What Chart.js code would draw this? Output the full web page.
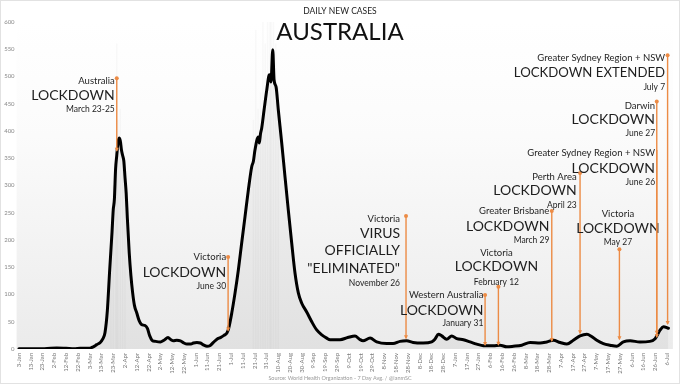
<!DOCTYPE html>
<html><head><meta charset="utf-8">
<script src="https://cdn.jsdelivr.net/npm/chart.js@4.4.1/dist/chart.umd.min.js"></script>
<style>html,body{margin:0;padding:0;background:#fff}#wrap{width:680px;height:384px;position:relative}</style>
</head><body><div id="wrap"><canvas id="c" width="680" height="384"></canvas></div>
<script>
// ---- DATA ----
const tickLabels = ['3-Jan','13-Jan','23-Jan','2-Feb','12-Feb','22-Feb','3-Mar','13-Mar','23-Mar','2-Apr','12-Apr','22-Apr','2-May','12-May','22-May','1-Jun','11-Jun','21-Jun','1-Jul','11-Jul','21-Jul','31-Jul','10-Aug','20-Aug','30-Aug','9-Sep','19-Sep','29-Sep','9-Oct','19-Oct','29-Oct','8-Nov','18-Nov','28-Nov','8-Dec','18-Dec','28-Dec','7-Jan','17-Jan','27-Jan','6-Feb','16-Feb','26-Feb','8-Mar','18-Mar','28-Mar','7-Apr','17-Apr','27-Apr','7-May','17-May','27-May','6-Jun','16-Jun','26-Jun','6-Jul'];
const yTicks = [0,50,100,150,200,250,300,350,400,450,500,550,600];

// 7-day average: day index from 3 Jan 2020, value
const avgDays = [0,10,20,27,32,40,47,52,57,60,63,66,69,71,73,75,77,79,80,81,82,83,84,85,86,87,88,89,90,91,92,93.6,95,96.5,98,100,102,104,107,109,111,113,116,120,123,126.5,129,131,134,137,140,142.6,146,148,151,154,157,159.6,162,165,168,171,174,176.6,178,180.6,183.4,186.2,189,191.8,194.7,197.5,199,200.3,203.1,204,205,206,208,210.3,212.5,213.9,215.4,216.5,218.2,220.1,223,225.8,228.6,231.5,234.3,237.1,240,244.2,248.5,252.7,257,261.2,264,266.6,272.5,279,285.2,289,292,298,303.6,312,317.5,323.4,329,334.5,343,350.3,353,356,358.8,363,367.3,371.6,377.2,382.8,388.5,394.1,402.6,408.3,414,419.6,426.7,433.8,442.3,448,453.6,459.3,465,470.5,476.2,482,486,490.4,496,501.7,507.4,513,518.7,527,535.4,539.9,544.2,547,551.2];
const avgValues = [0.3,0.4,0.6,1.5,1.8,1.2,0.5,1.5,1.5,1.5,4,8,12,18,30,70,145,215,255,275,330,355,378,387,382,365,355,345,315,286,240,176,135,103,80,66,52,45,43,38,24,16,14,13,16,21,17,15,16,15,11,9,9,11,12,11,7,5,6,12,18,21,25,30,38,66,103,145,194,242,292,334,345,365,389,378,395,405,438,475,503,490,549,494,481,439,378,316,255,194,139,103,84,68,50,35,26,20,17,17,17,21,24,18,15,20,13,10,10,14,15,12,11,13,18,27,24,18,24,19,17,13,9,6,6,7,4,5,7,12,11,13,16,12,9,16,24,27,23,16,10,7,5,13,15,13,14,19,35,41,38];

// faint daily bars that rise above the average
const dailyDays = [78,80,82,83,84,86,88,90,199,201,203,205,207,209,211,213,214,216,218,220];
const dailyValues = [230,300,360,560,420,440,380,330,420,585,440,470,600,560,610,630,640,600,560,480];

// annotations
const annoDays = [83,177.5,328.5,395.6,406.9,452.2,476.2,509.6,541.3,541.3,550.5];
const annoTops = [497,169,244,99,114,253,323,183,365,454,539];
const annoBottoms = [362,32,18,5.5,6,13,27,16,20,26,44];
const annoDots = [true,true,true,true,true,true,true,true,false,true,true];
const annoTexts = [
  ['Australia','LOCKDOWN','March 23-25'],
  ['Victoria','LOCKDOWN','June 30'],
  ['Victoria','VIRUS','OFFICIALLY','"ELIMINATED"','November 26'],
  ['Western Australia','LOCKDOWN','January 31'],
  ['Victoria','LOCKDOWN','February 12'],
  ['Greater Brisbane','LOCKDOWN','March 29'],
  ['Perth Area','LOCKDOWN','April 23'],
  ['Victoria','LOCKDOWN','May 27'],
  ['Greater Sydney Region + NSW','LOCKDOWN','June 26'],
  ['Darwin','LOCKDOWN','June 27'],
  ['Greater Sydney Region + NSW','LOCKDOWN EXTENDED','July 7']
];

// ---- LAYOUT / STYLE ----
const FONT = 'Lato, "Open Sans", sans-serif';
const ORANGE = '#ec8b45';
const S = [9.5,14,8.5];
const annoLayout = [
  {align:'right', dx:-2, dys:[3,17,31], sizes:S},
  {align:'right', dx:-2, dys:[0,16,29], sizes:S},
  {align:'right', dx:-6, dys:[2.5,17,34,52,67.5], sizes:[9.5,14,14,14,8.5]},
  {align:'right', dx:-1.7, dys:[0,15,28], sizes:S},
  {align:'center', dx:-2, dys:[-34,-20,-5], sizes:S},
  {align:'right', dx:-2.4, dys:[0,15.7,29], sizes:S},
  {align:'right', dx:-3.3, dys:[3.7,18,32], sizes:S},
  {align:'center', dx:-1.5, dys:[-35,-20.3,-6.7], sizes:S},
  {align:'right', dx:-1.7, dys:[3.3,18.3,31.7], sizes:S},
  {align:'right', dx:-1.7, dys:[4.3,18.3,31.3], sizes:S},
  {align:'right', dx:-2.5, dys:[2.3,17,32.3], sizes:[9.5,13.2,8.5]}
];

const bgPlugin = {
  id:'bg',
  beforeDraw(chart){
    const {ctx, chartArea:a} = chart;
    ctx.save();
    ctx.fillStyle = '#fff';
    ctx.fillRect(0,0,chart.width,chart.height);
    const g = ctx.createLinearGradient(0,a.top,0,a.bottom);
    g.addColorStop(0,'#ffffff');
    g.addColorStop(0.35,'#fbfbfb');
    g.addColorStop(1,'#ebebeb');
    ctx.fillStyle = g;
    ctx.fillRect(a.left,a.top,a.right-a.left,a.bottom-a.top);
    ctx.restore();
  },
  afterDraw(chart){
    const ctx = chart.ctx;
    ctx.save();
    ctx.strokeStyle = '#e2e2e2';
    ctx.lineWidth = 1;
    ctx.strokeRect(0.5,0.5,chart.width-1,chart.height-1);
    ctx.fillStyle = '#222';
    ctx.textAlign = 'center';
    ctx.textBaseline = 'middle';
    ctx.font = '8.5px ' + FONT;
    ctx.fillText('DAILY NEW CASES', 340, 11.5);
    ctx.fillStyle = '#111';
    ctx.font = '24px ' + FONT;
    ctx.fillText('AUSTRALIA', 340, 32);
    ctx.fillStyle = '#999';
    ctx.font = '5.5px ' + FONT;
    ctx.fillText('Source: World Health Organization - 7 Day Avg. / @ianmSC', 340, 378.5);
    ctx.restore();
  }
};

const annoPlugin = {
  id:'anno',
  afterDatasetsDraw(chart){
    const {ctx, scales:{x,y}} = chart;
    ctx.save();
    annoDays.forEach((d,i)=>{
      const xl = x.getPixelForValue(d);
      const yt = y.getPixelForValue(annoTops[i]);
      const yb = y.getPixelForValue(annoBottoms[i]);
      ctx.strokeStyle = ORANGE;
      ctx.lineWidth = 1.4;
      ctx.beginPath(); ctx.moveTo(xl,yt); ctx.lineTo(xl,yb-1); ctx.stroke();
      ctx.fillStyle = ORANGE;
      ctx.beginPath(); ctx.moveTo(xl-2,yb-4); ctx.lineTo(xl+2,yb-4); ctx.lineTo(xl,yb); ctx.closePath(); ctx.fill();
      if (annoDots[i]) { ctx.beginPath(); ctx.arc(xl,yt,2,0,Math.PI*2); ctx.fill(); }
      const L = annoLayout[i];
      ctx.fillStyle = '#1e1e1e';
      ctx.textAlign = L.align;
      ctx.textBaseline = 'middle';
      annoTexts[i].forEach((t,j)=>{
        ctx.font = L.sizes[j] + 'px ' + FONT;
        ctx.fillText(t, xl + L.dx, yt + L.dys[j]);
      });
    });
    ctx.restore();
  }
};

new Chart(document.getElementById('c'), {
  data:{
    datasets:[
      {type:'bar', data: dailyDays.map((d,i)=>({x:d,y:dailyValues[i]})), backgroundColor:'rgba(0,0,0,0.025)', barThickness:1, order:3},
      {type:'line', data: avgDays.map((d,i)=>({x:d,y:avgValues[i]})), borderColor:'#000', borderWidth:3, pointRadius:0,
       cubicInterpolationMode:'monotone', borderJoinStyle:'round', borderCapStyle:'round',
       fill:'origin', backgroundColor:'rgba(0,0,0,0.04)', order:1}
    ]
  },
  options:{
    responsive:false, animation:false, devicePixelRatio:1,
    layout:{padding:{top:22,right:7.1,left:0,bottom:0}},
    plugins:{legend:{display:false}, tooltip:{enabled:false}},
    scales:{
      x:{type:'linear', min:-2, max:555, offset:false,
         grid:{display:false, drawTicks:false, offset:false}, border:{display:false},
         afterBuildTicks(s){ s.ticks = tickLabels.map((_,i)=>({value:i*10})); },
         afterFit(s){ s.height = 35; s.paddingLeft = 0; s.paddingRight = 0; },
         ticks:{autoSkip:false, minRotation:90, maxRotation:90, padding:4, color:'#777',
                font:{size:6, family:FONT},
                callback(v){ return tickLabels[Math.round(v/10)]; }}},
      y:{min:0, max:600,
         grid:{display:false, drawTicks:false}, border:{display:false},
         afterBuildTicks(s){ s.ticks = yTicks.map(v=>({value:v})); },
         afterFit(s){ s.width = 16.6; s.paddingTop = 0; s.paddingBottom = 0; },
         ticks:{padding:2, color:'#888', font:{size:6, family:FONT}}}
    }
  },
  plugins:[bgPlugin, annoPlugin]
});
</script>
</body></html>
